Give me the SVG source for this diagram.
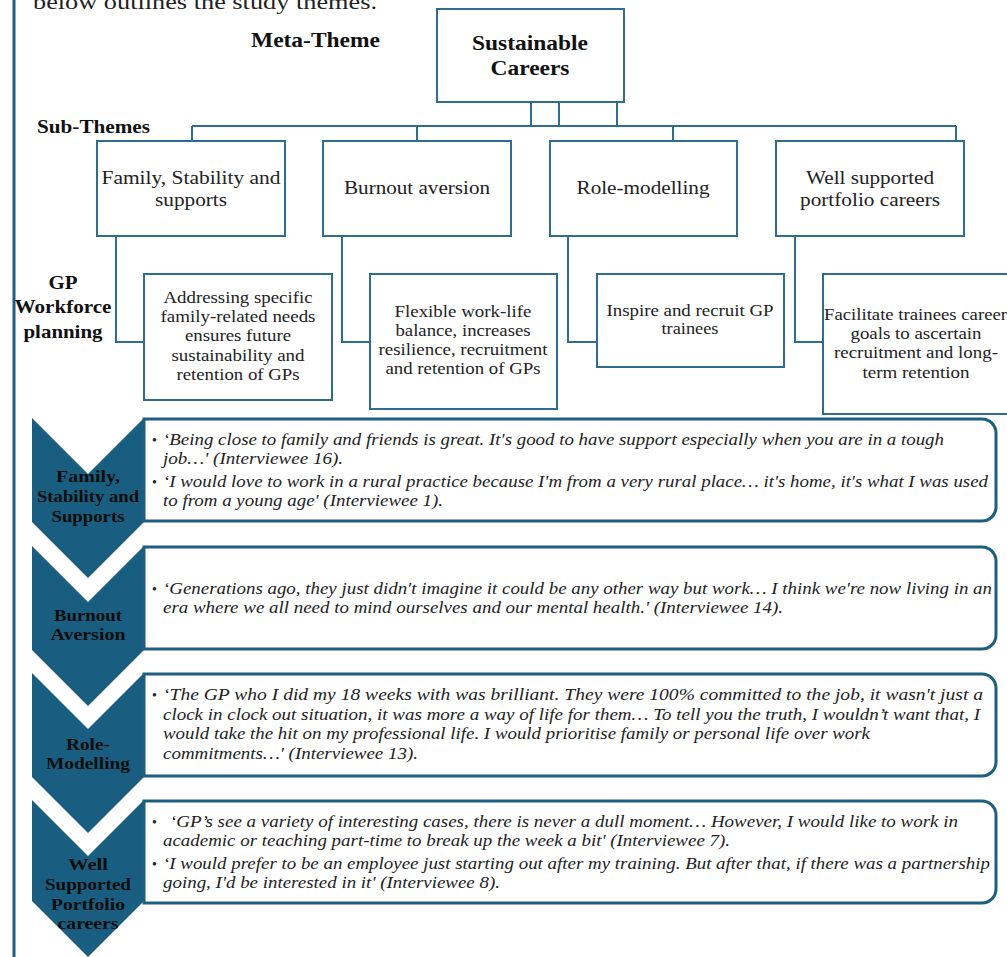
<svg xmlns="http://www.w3.org/2000/svg" width="1007" height="957" viewBox="0 0 1007 957">
<style>
.box{fill:#fff;stroke:#2E6D8E;stroke-width:2}
.conn{fill:none;stroke:#2E6D8E;stroke-width:2}
.q{fill:#fff;stroke:#1E5F80;stroke-width:3}
.chev{fill:#195E80}
.h{font-family:'Liberation Serif','Times New Roman',Times,serif;font-weight:bold;fill:#111}
.t{font-family:'Liberation Serif','Times New Roman',Times,serif;fill:#222}
.i{font-family:'Liberation Serif','Times New Roman',Times,serif;font-style:italic;fill:#222;font-size:16.5px}
.b{font-family:'Liberation Serif','Times New Roman',Times,serif;fill:#222;font-size:14px}
.c{font-family:'Liberation Serif','Times New Roman',Times,serif;font-weight:bold;fill:#0d0d0d;font-size:17px}
</style>
<rect width="1007" height="957" fill="#fff"/>
<line x1="14" y1="0" x2="14" y2="957" stroke="#1E5F80" stroke-width="3"/>
<text class="t" x="33" y="9" font-size="20" textLength="344" lengthAdjust="spacingAndGlyphs">below outlines the study themes.</text>
<text class="h" x="251" y="47" font-size="21" textLength="129" lengthAdjust="spacingAndGlyphs">Meta-Theme</text>
<text class="h" x="37" y="133" font-size="18" textLength="113" lengthAdjust="spacingAndGlyphs">Sub-Themes</text>
<g id="gp-label">
<text class="h" x="63" y="289" font-size="19" text-anchor="middle" textLength="29" lengthAdjust="spacingAndGlyphs">GP</text>
<text class="h" x="63" y="313" font-size="19" text-anchor="middle" textLength="97" lengthAdjust="spacingAndGlyphs">Workforce</text>
<text class="h" x="63" y="338" font-size="19" text-anchor="middle" textLength="79" lengthAdjust="spacingAndGlyphs">planning</text>
</g>
<g id="connectors">
<path class="conn" d="M531,102V126M559,102V126M617,102V126M192,126H956M192,126V141M417,126V141M673,126V141M956,126V141"/>
<path class="conn" d="M116,236V342H144M342,236V342H370M568,236V342H597M795,236V342H823"/>
</g>
<g id="meta">
<rect class="box" x="437" y="9" width="187" height="93"/>
<text class="h" x="530" y="50" font-size="21" text-anchor="middle" textLength="116" lengthAdjust="spacingAndGlyphs">Sustainable</text>
<text class="h" x="530" y="75" font-size="21" text-anchor="middle" textLength="79" lengthAdjust="spacingAndGlyphs">Careers</text>
</g>
<g id="sub1">
<rect class="box" x="97" y="141" width="188" height="95"/>
<text class="t" x="191" y="184" font-size="19" text-anchor="middle" textLength="179" lengthAdjust="spacingAndGlyphs">Family, Stability and</text>
<text class="t" x="191" y="206" font-size="19" text-anchor="middle" textLength="72" lengthAdjust="spacingAndGlyphs">supports</text>
</g>
<g id="sub2">
<rect class="box" x="323" y="141" width="188" height="95"/>
<text class="t" x="417" y="194" font-size="19" text-anchor="middle" textLength="146" lengthAdjust="spacingAndGlyphs">Burnout aversion</text>
</g>
<g id="sub3">
<rect class="box" x="550" y="141" width="187" height="95"/>
<text class="t" x="643" y="194" font-size="19" text-anchor="middle" textLength="133" lengthAdjust="spacingAndGlyphs">Role-modelling</text>
</g>
<g id="sub4">
<rect class="box" x="776" y="141" width="188" height="95"/>
<text class="t" x="870" y="184" font-size="19" text-anchor="middle" textLength="128" lengthAdjust="spacingAndGlyphs">Well supported</text>
<text class="t" x="870" y="206" font-size="19" text-anchor="middle" textLength="140" lengthAdjust="spacingAndGlyphs">portfolio careers</text>
</g>
<g id="gp1">
<rect class="box" x="144" y="274" width="188" height="126"/>
<text class="t" x="238" y="303" font-size="16.5" text-anchor="middle" textLength="149" lengthAdjust="spacingAndGlyphs">Addressing specific</text>
<text class="t" x="238" y="322" font-size="16.5" text-anchor="middle" textLength="155" lengthAdjust="spacingAndGlyphs">family-related needs</text>
<text class="t" x="238" y="341" font-size="16.5" text-anchor="middle" textLength="106" lengthAdjust="spacingAndGlyphs">ensures future</text>
<text class="t" x="238" y="361" font-size="16.5" text-anchor="middle" textLength="133" lengthAdjust="spacingAndGlyphs">sustainability and</text>
<text class="t" x="238" y="380" font-size="16.5" text-anchor="middle" textLength="123" lengthAdjust="spacingAndGlyphs">retention of GPs</text>
</g>
<g id="gp2">
<rect class="box" x="370" y="274" width="187" height="135"/>
<text class="t" x="463" y="317" font-size="16.5" text-anchor="middle" textLength="137" lengthAdjust="spacingAndGlyphs">Flexible work-life</text>
<text class="t" x="463" y="336" font-size="16.5" text-anchor="middle" textLength="135" lengthAdjust="spacingAndGlyphs">balance, increases</text>
<text class="t" x="463" y="355" font-size="16.5" text-anchor="middle" textLength="169" lengthAdjust="spacingAndGlyphs">resilience, recruitment</text>
<text class="t" x="463" y="374" font-size="16.5" text-anchor="middle" textLength="155" lengthAdjust="spacingAndGlyphs">and retention of GPs</text>
</g>
<g id="gp3">
<rect class="box" x="597" y="274" width="187" height="93"/>
<text class="t" x="690" y="316" font-size="16" text-anchor="middle" textLength="167" lengthAdjust="spacingAndGlyphs">Inspire and recruit GP</text>
<text class="t" x="690" y="334" font-size="16" text-anchor="middle" textLength="57" lengthAdjust="spacingAndGlyphs">trainees</text>
</g>
<g id="gp4">
<rect class="box" x="823" y="274" width="200" height="140"/>
<text class="t" x="824" y="320" font-size="16.5" textLength="183" lengthAdjust="spacingAndGlyphs">Facilitate trainees career</text>
<text class="t" x="916" y="339" font-size="16.5" text-anchor="middle" textLength="131" lengthAdjust="spacingAndGlyphs">goals to ascertain</text>
<text class="t" x="916" y="358" font-size="16.5" text-anchor="middle" textLength="164" lengthAdjust="spacingAndGlyphs">recruitment and long-</text>
<text class="t" x="916" y="378" font-size="16.5" text-anchor="middle" textLength="107" lengthAdjust="spacingAndGlyphs">term retention</text>
</g>
<g id="row1">
<polygon class="chev" points="32,418 88,474 144,418 144,522 88,578 32,522"/>
<path class="q" d="M144,419H982A14,14 0 0 1 996,433V507A14,14 0 0 1 982,521H144Z"/>
<text class="c" x="88" y="482" text-anchor="middle" textLength="64" lengthAdjust="spacingAndGlyphs">Family,</text>
<text class="c" x="88" y="502" text-anchor="middle" textLength="102" lengthAdjust="spacingAndGlyphs">Stability and</text>
<text class="c" x="88" y="522" text-anchor="middle" textLength="73" lengthAdjust="spacingAndGlyphs">Supports</text>
<text class="b" x="152" y="445">•</text>
<text class="i" x="163" y="445" textLength="781" lengthAdjust="spacingAndGlyphs">‘Being close to family and friends is great. It's good to have support especially when you are in a tough</text>
<text class="i" x="163" y="464" textLength="180" lengthAdjust="spacingAndGlyphs">job…' (Interviewee 16).</text>
<text class="b" x="152" y="487">•</text>
<text class="i" x="163" y="487" textLength="825" lengthAdjust="spacingAndGlyphs">‘I would love to work in a rural practice because I'm from a very rural place… it's home, it's what I was used</text>
<text class="i" x="163" y="506" textLength="280" lengthAdjust="spacingAndGlyphs">to from a young age' (Interviewee 1).</text>
</g>
<g id="row2">
<polygon class="chev" points="32,546 88,602 144,546 144,650 88,706 32,650"/>
<path class="q" d="M144,547H982A14,14 0 0 1 996,561V635A14,14 0 0 1 982,649H144Z"/>
<text class="c" x="88" y="621" text-anchor="middle" textLength="68" lengthAdjust="spacingAndGlyphs">Burnout</text>
<text class="c" x="88" y="640" text-anchor="middle" textLength="75" lengthAdjust="spacingAndGlyphs">Aversion</text>
<text class="b" x="152" y="594">•</text>
<text class="i" x="163" y="594" textLength="829" lengthAdjust="spacingAndGlyphs">‘Generations ago, they just didn't imagine it could be any other way but work… I think we're now living in an</text>
<text class="i" x="163" y="613" textLength="620" lengthAdjust="spacingAndGlyphs">era where we all need to mind ourselves and our mental health.' (Interviewee 14).</text>
</g>
<g id="row3">
<polygon class="chev" points="32,673 88,729 144,673 144,777 88,833 32,777"/>
<path class="q" d="M144,674H982A14,14 0 0 1 996,688V762A14,14 0 0 1 982,776H144Z"/>
<text class="c" x="88" y="750" text-anchor="middle" textLength="44" lengthAdjust="spacingAndGlyphs">Role-</text>
<text class="c" x="88" y="769" text-anchor="middle" textLength="84" lengthAdjust="spacingAndGlyphs">Modelling</text>
<text class="b" x="152" y="700">•</text>
<text class="i" x="163" y="700" textLength="820" lengthAdjust="spacingAndGlyphs">‘The GP who I did my 18 weeks with was brilliant. They were 100% committed to the job, it wasn't just a</text>
<text class="i" x="163" y="720" textLength="817" lengthAdjust="spacingAndGlyphs">clock in clock out situation, it was more a way of life for them… To tell you the truth, I wouldn’t want that, I</text>
<text class="i" x="163" y="739" textLength="707" lengthAdjust="spacingAndGlyphs">would take the hit on my professional life. I would prioritise family or personal life over work</text>
<text class="i" x="163" y="759" textLength="255" lengthAdjust="spacingAndGlyphs">commitments…' (Interviewee 13).</text>
</g>
<g id="row4">
<polygon class="chev" points="32,800 88,856 144,800 144,901 88,957 32,901"/>
<path class="q" d="M144,801H982A14,14 0 0 1 996,815V889A14,14 0 0 1 982,903H144Z"/>
<text class="c" x="88" y="870" text-anchor="middle" textLength="40" lengthAdjust="spacingAndGlyphs">Well</text>
<text class="c" x="88" y="890" text-anchor="middle" textLength="86" lengthAdjust="spacingAndGlyphs">Supported</text>
<text class="c" x="88" y="910" text-anchor="middle" textLength="74" lengthAdjust="spacingAndGlyphs">Portfolio</text>
<text class="c" x="88" y="929" text-anchor="middle" textLength="61" lengthAdjust="spacingAndGlyphs">careers</text>
<text class="b" x="152" y="827">•</text>
<text class="i" x="170" y="827" textLength="788" lengthAdjust="spacingAndGlyphs">‘GP’s see a variety of interesting cases, there is never a dull moment… However, I would like to work in</text>
<text class="i" x="163" y="846" textLength="567" lengthAdjust="spacingAndGlyphs">academic or teaching part-time to break up the week a bit' (Interviewee 7).</text>
<text class="b" x="152" y="869">•</text>
<text class="i" x="163" y="869" textLength="827" lengthAdjust="spacingAndGlyphs">‘I would prefer to be an employee just starting out after my training. But after that, if there was a partnership</text>
<text class="i" x="163" y="888" textLength="337" lengthAdjust="spacingAndGlyphs">going, I'd be interested in it' (Interviewee 8).</text>
</g>
</svg>
